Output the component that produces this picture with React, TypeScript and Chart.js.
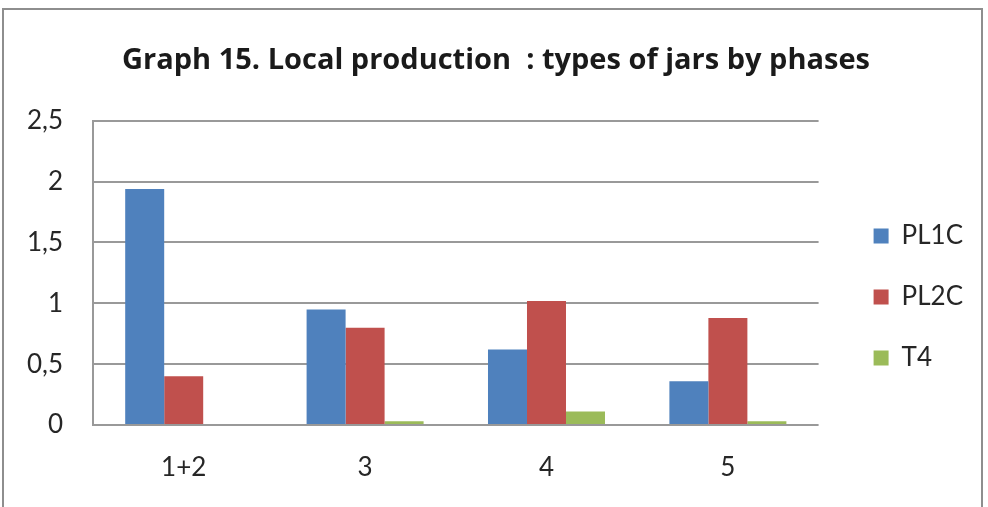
import React, { useEffect, useRef } from "react";
import { Chart, registerables } from "chart.js";

Chart.register(...registerables);

const TITLE = "Graph 15. Local production  : types of jars by phases";
const categories = ["1+2", "3", "4", "5"];
const seriesNames = ["PL1C", "PL2C", "T4"];
const pl1c = [1.94, 0.95, 0.62, 0.36];
const pl2c = [0.4, 0.8, 1.02, 0.88];
const t4 = [0, 0.03, 0.11, 0.03];
const yTicks = [0, 0.5, 1, 1.5, 2, 2.5];
const colors = ["#4F81BD", "#C0504D", "#9BBB59"];

export default function App() {
  const ref = useRef<HTMLCanvasElement | null>(null);

  useEffect(() => {
    const canvas = ref.current;
    if (!canvas) return;
    const font = "Lato, 'Open Sans', sans-serif";
    const chart = new Chart(canvas, {
      type: "bar",
      data: {
        labels: categories,
        datasets: [pl1c, pl2c, t4].map((d, i) => ({
          label: seriesNames[i],
          data: d,
          backgroundColor: colors[i],
          borderWidth: 0,
          categoryPercentage: 0.645,
          barPercentage: 1,
        })),
      },
      options: {
        responsive: false,
        animation: false,
        devicePixelRatio: 1,
        layout: { padding: { left: 19, right: 15, top: 0, bottom: 0 } },
        plugins: {
          tooltip: { enabled: false },
          title: {
            display: true,
            text: TITLE,
            color: "#1a1a1a",
            font: { family: "'Open Sans', Lato, sans-serif", size: 29, weight: "bold", lineHeight: 1.2 },
            padding: { top: 43, bottom: 43 },
          },
          legend: {
            display: true,
            position: "right",
            fullSize: false,
            align: "center",
            title: {
              display: true,
              text: " ",
              font: { size: 20, lineHeight: 1.2 },
              padding: 12,
            },
            labels: {
              boxWidth: 15,
              boxHeight: 15,
              padding: 35,
              color: "#262626",
              font: { family: font, size: 26 },
            },
          },
        },
        scales: {
          x: {
            grid: { display: false, drawTicks: false },
            border: { display: false },
            ticks: {
              color: "#262626",
              padding: 27,
              font: { family: font, size: 26 },
            },
            afterFit: (s: any) => {
              s.height = 82;
            },
          },
          y: {
            min: 0,
            max: 2.5,
            afterBuildTicks: (s: any) => {
              s.ticks = yTicks.map((v) => ({ value: v }));
            },
            grid: { color: "#999999", lineWidth: 2, drawTicks: false },
            border: { display: true, color: "#999999", width: 2 },
            ticks: {
              color: "#262626",
              padding: 30,
              font: { family: font, size: 26 },
              callback: (v: any) => String(v).replace(".", ","),
            },
            afterFit: (s: any) => {
              s.width = 74;
            },
          },
          y2: {
            position: "right",
            display: true,
            grid: { display: false, drawTicks: false },
            border: { display: false },
            ticks: { display: false },
            afterFit: (s: any) => {
              s.width = 20;
            },
          },
        },
      },
    });
    return () => chart.destroy();
  }, []);

  return (
    <div
      style={{
        position: "fixed",
        left: 0,
        top: 0,
        width: 988,
        height: 507,
        background: "#ffffff",
        overflow: "hidden",
      }}
    >
      <div
        style={{
          position: "absolute",
          left: 2,
          top: 8,
          width: 981,
          height: 520,
          border: "2px solid #8e8e8e",
          boxSizing: "border-box",
        }}
      />
      <canvas
        ref={ref}
        width={988}
        height={507}
        style={{ position: "absolute", left: 0, top: 0, width: 988, height: 507 }}
      />
    </div>
  );
}
